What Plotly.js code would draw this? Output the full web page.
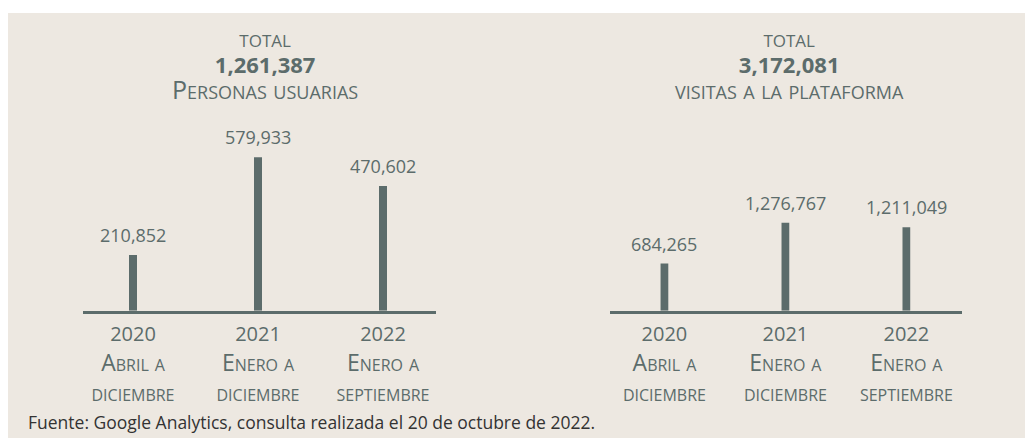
<!DOCTYPE html>
<html>
<head>
<meta charset="utf-8">
<script src="https://cdn.plot.ly/plotly-3.0.1.min.js"></script>
<style>html,body{margin:0;padding:0;background:#fff;}#chart{width:1025px;height:438px;}</style>
</head>
<body>
<div id="chart"></div>
<script>
// ---- data ----
const categories = ['2020', '2021', '2022'];
const periodStart = ['Abril a', 'Enero a', 'Enero a'];
const periodEnd = ['diciembre', 'diciembre', 'septiembre'];
const usuarios = [210852, 579933, 470602];
const visitas = [684265, 1276767, 1211049];
const totalUsuarios = 1261387;
const totalVisitas = 3172081;
const labelUsuarios = 'Personas usuarias';
const labelVisitas = 'visitas a la plataforma';
const totalWord = 'total';
const fuente = 'Fuente: Google Analytics, consulta realizada el 20 de octubre de 2022.';

// ---- style ----
const ink = '#5c6c6b';
const bg = '#ede8e1';
const fam = 'Open Sans, Noto Sans, sans-serif';
const fmt = v => v.toLocaleString('en-US');
const sized = (s, px) => '<span style="font-size:' + px + 'px">' + s + '</span>';
const tickText = categories.map((c, i) => sized(c, 20) + '<br>' + periodStart[i] + '<br>' + periodEnd[i]);

const barCommon = {
  type: 'bar',
  x: categories,
  width: 0.064,
  marker: {color: ink},
  hoverinfo: 'skip',
  showlegend: false
};
const traces = [
  Object.assign({}, barCommon, {y: usuarios, xaxis: 'x', yaxis: 'y'}),
  Object.assign({}, barCommon, {y: visitas, xaxis: 'x2', yaxis: 'y2'})
];

const xCommon = {
  type: 'category',
  tickmode: 'array',
  tickvals: categories,
  ticktext: tickText,
  ticks: '',
  showgrid: false,
  zeroline: false,
  showline: true,
  linecolor: ink,
  linewidth: 3,
  fixedrange: true,
  tickfont: {family: fam, size: 23, color: ink, variant: 'small-caps'}
};
const yCommon = {
  showgrid: false, zeroline: false, showline: false, showticklabels: false,
  ticks: '', domain: [0.2906, 0.75], fixedrange: true
};

const annotations = [];
function addValueLabels(vals, xr, yr) {
  vals.forEach((v, i) => {
    annotations.push({
      xref: xr, yref: yr, x: i, y: v,
      text: fmt(v), showarrow: false, xanchor: 'center', yanchor: 'bottom', yshift: 6,
      font: {family: fam, size: 18, color: ink}
    });
  });
}
addValueLabels(usuarios, 'x', 'y');
addValueLabels(visitas, 'x2', 'y2');

function addTitle(cx, total, label) {
  annotations.push({xref: 'paper', yref: 'paper', x: cx, y: (438 - 63.5) / 438,
    xanchor: 'center', yanchor: 'middle', align: 'center', showarrow: false,
    text: sized(totalWord, 24) + '<br><b>' + sized(fmt(total), 22) + '</b><br>' + sized(label, 25),
    font: {family: fam, size: 20, color: ink, variant: 'small-caps'}});
}
addTitle(265 / 1025, totalUsuarios, labelUsuarios);
addTitle(789 / 1025, totalVisitas, labelVisitas);

annotations.push({xref: 'paper', yref: 'paper', x: 26 / 1025, y: (438 - 422) / 438,
  xanchor: 'left', yanchor: 'middle', text: fuente, showarrow: false,
  font: {family: fam, size: 17.5, color: '#333333'}});

const layout = {
  width: 1025, height: 438,
  margin: {l: 0, r: 0, t: 0, b: 0},
  paper_bgcolor: bg,
  plot_bgcolor: 'rgba(0,0,0,0)',
  xaxis: Object.assign({}, xCommon, {domain: [83 / 1025, 436 / 1025], range: [-0.4, 2.424], anchor: 'y'}),
  yaxis: Object.assign({}, yCommon, {range: [0, 760000], anchor: 'x'}),
  xaxis2: Object.assign({}, xCommon, {domain: [610 / 1025, 962 / 1025], range: [-0.45, 2.46], anchor: 'y2'}),
  yaxis2: Object.assign({}, yCommon, {range: [0, 2921900], anchor: 'x2'}),
  annotations: annotations,
  shapes: [
    {type: 'rect', xref: 'paper', yref: 'paper', x0: 0, x1: 1, y0: (438 - 13) / 438, y1: 1,
      fillcolor: '#ffffff', line: {width: 0}, layer: 'below'},
    {type: 'rect', xref: 'paper', yref: 'paper', x0: 0, x1: 8 / 1025, y0: 0, y1: 1,
      fillcolor: '#ffffff', line: {width: 0}, layer: 'below'}
  ]
};

Plotly.newPlot('chart', traces, layout, {displayModeBar: false, staticPlot: true});
</script>
</body>
</html>
